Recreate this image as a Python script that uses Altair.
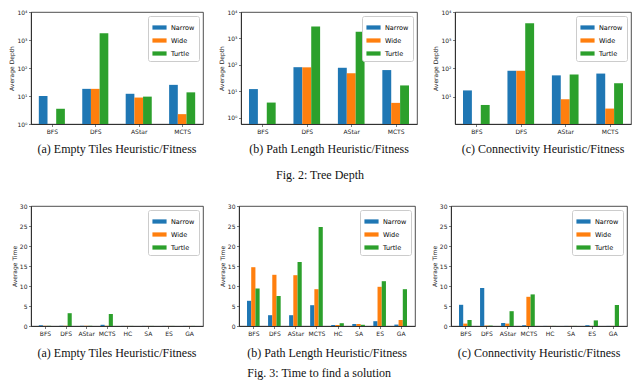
import altair as alt
import pandas as pd

algs_top = ["BFS", "DFS", "AStar", "MCTS"]
algs_bot = ["BFS", "DFS", "AStar", "MCTS", "HC", "SA", "ES", "GA"]
series = ["Narrow", "Wide", "Turtle"]
colors = ["#1f77b4", "#ff7f0e", "#2ca02c"]

# Fig. 2: Tree depth (log scale), None = no bar
depth_a_narrow = [10, 18, 12, 25]
depth_a_wide = [None, 18, 8.8, 2.25]
depth_a_turtle = [3.5, 1750, 9.5, 13.5]

depth_b_narrow = [12, 81, 77, 63]
depth_b_wide = [None, 80, 48, 3.6]
depth_b_turtle = [3.7, 2800, 1780, 16.5]

depth_c_narrow = [16.7, 83, 57, 66]
depth_c_wide = [None, 83, 8.1, 3.8]
depth_c_turtle = [5.1, 4000, 61, 30]

# Fig. 3: Time to find a solution
time_a_narrow = [0.2, 0.05, 0.05, 0.3, 0.02, 0.02, 0.02, 0.02]
time_a_wide = [0.05, 0.05, 0.05, 0.05, 0.02, 0.02, 0.02, 0.02]
time_a_turtle = [0.05, 3.2, 0.05, 3.0, 0.02, 0.02, 0.02, 0.02]

time_b_narrow = [6.3, 2.7, 2.7, 5.2, 0.25, 0.5, 1.2, 0.35]
time_b_wide = [14.7, 12.8, 12.7, 9.2, 0.25, 0.5, 9.8, 1.5]
time_b_turtle = [9.4, 7.5, 16.0, 24.75, 0.7, 0.3, 11.2, 9.2]

time_c_narrow = [5.3, 9.5, 0.75, 0.2, 0.02, 0.02, 0.2, 0.02]
time_c_wide = [0.6, 0.1, 0.6, 7.3, 0.02, 0.02, 0.02, 0.02]
time_c_turtle = [1.5, 0.1, 3.7, 7.9, 0.02, 0.02, 1.4, 5.25]

captions = ["(a) Empty Tiles Heuristic/Fitness",
            "(b) Path Length Heuristic/Fitness",
            "(c) Connectivity Heuristic/Fitness"]

SUP = "['\u2070','\u00b9','\u00b2','\u00b3','\u2074']"
BAR_W = 0.2


def frame(algs, narrow, wide, turtle, base=0):
    rows = []
    for k, (name, vals) in enumerate(zip(series, [narrow, wide, turtle])):
        for i, (a, v) in enumerate(zip(algs, vals)):
            if v is not None:
                x0 = i - 1.5 * BAR_W + k * BAR_W
                rows.append({"alg": a, "series": name, "value": v, "base": base,
                             "x0": x0, "x1": x0 + BAR_W})
    return pd.DataFrame(rows)


def make_legend():
    return alt.Legend(title=None, orient="top-right", offset=4,
                      symbolType="M-1,-0.3L1,-0.3L1,0.3L-1,0.3Z",
                      symbolSize=200, symbolStrokeWidth=0,
                      labelFontSize=6.5, labelFont="DejaVu Sans",
                      strokeColor="#cccccc", fillColor="white",
                      padding=4, rowPadding=2, cornerRadius=2)


def color_enc():
    return alt.Color("series:N", sort=series,
                     scale=alt.Scale(domain=series, range=colors),
                     legend=make_legend())


def x_enc(algs):
    n = len(algs)
    margin = 0.05 * (n - 1 + 3 * BAR_W)
    lo = -1.5 * BAR_W - margin
    hi = n - 1 + 1.5 * BAR_W + margin
    names = "[" + ",".join("'%s'" % a for a in algs) + "]"
    return alt.X("x0:Q", title=None,
                 scale=alt.Scale(domain=[lo, hi], nice=False, zero=False),
                 axis=alt.Axis(values=list(range(n)), labelAngle=0,
                               labelExpr=names + "[round(datum.value)]"))


def cap(text, offset):
    return alt.TitleParams(text, orient="bottom", offset=offset)


def depth_panel(n, w, t, ymin, ticks, caption, width, height=112):
    df = frame(algs_top, n, w, t, base=ymin)
    return alt.Chart(df).mark_bar(clip=True).encode(
        x=x_enc(algs_top),
        x2="x1:Q",
        y=alt.Y("value:Q", title="Average Depth",
                scale=alt.Scale(type="log", domain=[ymin, 10000], nice=False),
                axis=alt.Axis(values=ticks,
                              labelExpr="'10' + " + SUP + "[round(log(datum.value)/LN10)]")),
        y2=alt.Y2("base:Q"),
        color=color_enc(),
    ).properties(width=width, height=height, title=cap(caption, 10))


def time_panel(n, w, t, caption, width, height=120):
    df = frame(algs_bot, n, w, t)
    return alt.Chart(df).mark_bar().encode(
        x=x_enc(algs_bot),
        x2="x1:Q",
        y=alt.Y("value:Q", title="Average Time",
                scale=alt.Scale(domain=[0, 30], nice=False),
                axis=alt.Axis(values=[0, 5, 10, 15, 20, 25, 30])),
        y2=alt.Y2("base:Q"),
        color=color_enc(),
    ).properties(width=width, height=height, title=cap(caption, 12))


top = alt.hconcat(
    depth_panel(depth_a_narrow, depth_a_wide, depth_a_turtle, 1, [1, 10, 100, 1000, 10000], captions[0], 172),
    depth_panel(depth_b_narrow, depth_b_wide, depth_b_turtle, 0.57, [1, 10, 100, 1000, 10000], captions[1], 176),
    depth_panel(depth_c_narrow, depth_c_wide, depth_c_turtle, 1.08, [10, 100, 1000, 10000], captions[2], 176),
    spacing=14,
).resolve_legend(color="independent").resolve_scale(color="independent").properties(
    title=alt.TitleParams("Fig. 2: Tree Depth", orient="bottom", anchor="middle", offset=15))

bottom = alt.hconcat(
    time_panel(time_a_narrow, time_a_wide, time_a_turtle, captions[0], 172),
    time_panel(time_b_narrow, time_b_wide, time_b_turtle, captions[1], 176),
    time_panel(time_c_narrow, time_c_wide, time_c_turtle, captions[2], 176),
    spacing=14,
).resolve_legend(color="independent").resolve_scale(color="independent").properties(
    title=alt.TitleParams("Fig. 3: Time to find a solution", orient="bottom", anchor="middle", offset=9))

chart = alt.vconcat(top, bottom, spacing=20).resolve_legend(color="independent").resolve_scale(
    color="independent"
).properties(
    padding={"left": 0, "top": 0, "right": 0, "bottom": 0}
).configure_view(
    stroke="#222222", strokeWidth=0.8
).configure_axis(
    labelFont="DejaVu Sans", labelFontSize=6, labelColor="#222222",
    titleFont="DejaVu Sans", titleFontSize=6, titleFontWeight="normal",
    titleColor="#222222", titlePadding=2,
    domainColor="#222222", domainWidth=0.8,
    tickColor="#222222", tickSize=2.5, tickWidth=0.6,
    labelPadding=1.5, grid=False,
).configure_title(
    font="Liberation Serif", fontSize=12, fontWeight="normal", color="#111111"
)

chart.save("out.html", embed_options={"renderer": "svg", "actions": False})
